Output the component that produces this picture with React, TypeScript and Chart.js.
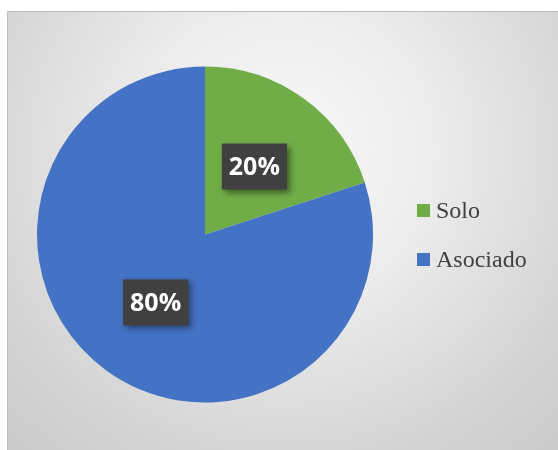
import React, { useEffect, useRef } from "react";
import { Chart, registerables } from "chart.js";

Chart.register(...registerables);

const categories = ["Solo", "Asociado"];
const seriesValues = [20, 80];
const percentLabels = ["20%", "80%"];
const sliceColors = ["#70AD47", "#4472C4"];

const framePlugin = {
  id: "framePlugin",
  beforeDraw(chart: any) {
    const ctx = chart.ctx as CanvasRenderingContext2D;
    const w = chart.width;
    const h = chart.height;
    ctx.save();
    ctx.fillStyle = "#ffffff";
    ctx.fillRect(0, 0, w, h);
    const g = ctx.createRadialGradient(285, 150, 0, 285, 150, 430);
    g.addColorStop(0, "#f9f9f9");
    g.addColorStop(0.35, "#ececec");
    g.addColorStop(0.75, "#d3d3d3");
    g.addColorStop(1, "#c8c8c8");
    ctx.fillStyle = g;
    ctx.fillRect(8, 12, w - 8, h - 12);
    ctx.strokeStyle = "#bdbdbd";
    ctx.lineWidth = 1;
    ctx.beginPath();
    ctx.moveTo(7.5, h);
    ctx.lineTo(7.5, 11.5);
    ctx.lineTo(w, 11.5);
    ctx.stroke();
    ctx.restore();
  },
  afterDraw(chart: any) {
    const ctx = chart.ctx as CanvasRenderingContext2D;
    const meta = chart.getDatasetMeta(0);
    ctx.save();
    // data labels
    ctx.font = "bold 25px 'Open Sans'";
    ctx.textAlign = "center";
    ctx.textBaseline = "middle";
    meta.data.forEach((arc: any, i: number) => {
      const p = arc.tooltipPosition();
      const txt = percentLabels[i];
      const tw = ctx.measureText(txt).width;
      const bw = tw + 14;
      const bh = 46;
      ctx.save();
      ctx.shadowColor = "rgba(0,0,0,0.45)";
      ctx.shadowBlur = 6;
      ctx.shadowOffsetX = 3;
      ctx.shadowOffsetY = 3;
      ctx.fillStyle = "#404040";
      ctx.fillRect(p.x - bw / 2, p.y - bh / 2, bw, bh);
      ctx.restore();
      ctx.fillStyle = "#ffffff";
      ctx.fillText(txt, p.x, p.y + 1);
    });
    // legend
    ctx.font = "24px 'Liberation Serif'";
    ctx.textAlign = "left";
    ctx.textBaseline = "alphabetic";
    const legendX = 417;
    const legendY0 = 210;
    const legendStep = 49;
    categories.forEach((c, i) => {
      const yc = legendY0 + i * legendStep;
      ctx.fillStyle = sliceColors[i];
      ctx.fillRect(legendX, yc - 6, 13, 13);
      ctx.fillStyle = "#404040";
      ctx.fillText(c, legendX + 19, yc + 8);
    });
    ctx.restore();
  },
};

export default function App() {
  const ref = useRef<HTMLCanvasElement | null>(null);
  useEffect(() => {
    if (!ref.current) return;
    const chart = new Chart(ref.current, {
      type: "pie",
      data: {
        labels: categories,
        datasets: [
          {
            data: seriesValues,
            backgroundColor: sliceColors,
            borderWidth: 0,
          },
        ],
      },
      options: {
        responsive: false,
        animation: false,
        layout: { padding: { left: 37, right: 185, top: 66, bottom: 47 } },
        plugins: {
          legend: { display: false },
          tooltip: { enabled: false },
        },
      },
      plugins: [framePlugin],
    });
    return () => chart.destroy();
  }, []);
  return (
    <div style={{ position: "fixed", left: 0, top: 0, width: 558, height: 450 }}>
      <canvas ref={ref} width={558} height={450} style={{ display: "block" }} />
    </div>
  );
}
